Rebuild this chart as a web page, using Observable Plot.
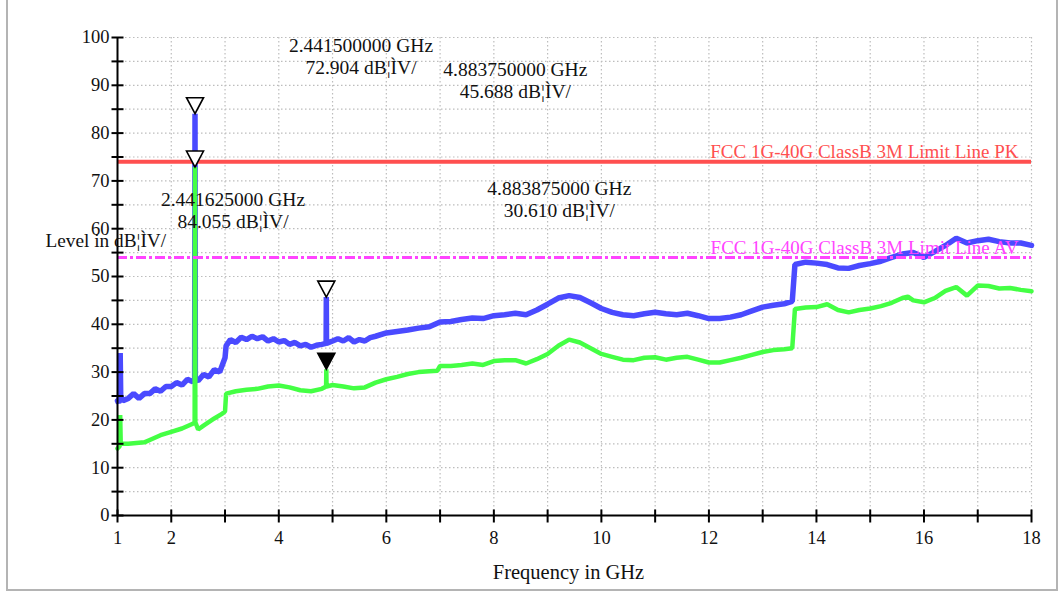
<!DOCTYPE html>
<html>
<head>
<meta charset="utf-8">
<script src="https://cdn.jsdelivr.net/npm/d3@7"></script>
<script src="https://cdn.jsdelivr.net/npm/@observablehq/plot@0.6"></script>
<style>
  html, body { margin: 0; padding: 0; background: #fff; }
  #wrap { position: relative; width: 1064px; height: 592px; overflow: hidden; }
  #wrap svg { position: absolute; left: 0; top: 0; }
  #border { position: absolute; left: 6px; top: -2px; width: 1052px; height: 593px; border: 2px solid #b4b4b4; box-sizing: border-box; pointer-events: none; }
</style>
</head>
<body>
<div id="wrap"><div id="border"></div></div>
<script>
// Peak (PK) trace: frequency in GHz, level in dBµV
const pkFreq = [1.00,1.02,1.04,1.05,1.06,1.1,1.2,1.3,1.4,1.5,1.6,1.7,1.8,1.9,2.0,2.1,2.2,2.3,2.4,2.435,2.4416,2.448,2.5,2.6,2.7,2.8,2.9,2.95,3.0,3.02,3.1,3.2,3.3,3.4,3.5,3.6,3.7,3.8,3.9,4.0,4.1,4.2,4.3,4.4,4.5,4.6,4.7,4.8,4.88,4.8838,4.888,5.0,5.1,5.2,5.3,5.4,5.5,5.6,5.7,5.8,6.0,6.2,6.4,6.6,6.8,7.0,7.2,7.4,7.6,7.8,8.0,8.2,8.4,8.6,8.8,9.0,9.2,9.4,9.6,9.8,10.0,10.2,10.4,10.6,10.8,11.0,11.2,11.4,11.6,11.8,12.0,12.2,12.4,12.6,12.8,13.0,13.2,13.4,13.55,13.6,13.8,14.0,14.2,14.4,14.6,14.8,15.0,15.2,15.4,15.6,15.8,16.0,16.2,16.4,16.6,16.8,17.0,17.2,17.4,17.6,17.8,18.0];
const pkLevel = [24,23.5,25,34,25,24,24.5,25.5,24.5,25.5,25.5,26.5,26,27,27,27.8,27.3,28.5,28,28.5,84.055,28.5,28.2,29.5,29,30.5,30,31.5,33,35.5,36.8,36.2,37.3,36.8,37.5,37,37.4,36.5,37,36.3,36.6,35.8,36.2,35.5,35.8,35.2,35.6,35.8,36,45.688,36,36.5,37,36.5,37.2,36.3,36.8,36.5,37.2,37.5,38.2,38.5,38.8,39.2,39.5,40.5,40.6,41,41.3,41.2,41.8,42,42.3,42,43,44.2,45.5,46,45.6,44.5,43.3,42.5,42,41.8,42.2,42.5,42.2,42,42.3,41.8,41.2,41.2,41.5,42,42.8,43.6,44,44.3,44.8,52.5,53,52.8,52.5,51.8,51.7,52.3,52.7,53.2,54,54.7,55,54,55.2,56.5,58,57,57.5,57.8,57.3,57,57,56.5];

// Average (AV) trace
const avFreq = [1.00,1.04,1.05,1.06,1.2,1.4,1.5,1.6,1.8,2.0,2.2,2.4,2.435,2.4415,2.448,2.5,2.6,2.8,2.95,3.0,3.02,3.2,3.4,3.6,3.8,4.0,4.2,4.4,4.6,4.8,4.88,4.8839,4.888,5.0,5.2,5.4,5.6,5.8,6.0,6.2,6.4,6.6,6.8,6.95,7.0,7.2,7.4,7.6,7.8,8.0,8.2,8.4,8.6,8.8,9.0,9.2,9.4,9.6,9.8,10.0,10.2,10.4,10.6,10.8,11.0,11.2,11.4,11.6,11.8,12.0,12.2,12.4,12.6,12.8,13.0,13.2,13.4,13.55,13.6,13.8,14.0,14.2,14.4,14.6,14.8,15.0,15.2,15.4,15.6,15.7,15.8,16.0,16.2,16.4,16.6,16.8,17.0,17.2,17.4,17.6,17.8,18.0];
const avLevel = [14,14.5,21,15,15,15.2,15.3,15.8,16.8,17.5,18.2,19.2,19.5,72.904,19.5,18,18.8,20.3,21.3,21.8,25.5,26,26.3,26.5,27,27.2,26.8,26.2,26,26.5,27,30.61,27,27.3,27,26.6,26.8,27.8,28.5,29,29.6,30,30.2,30.3,31.3,31.3,31.5,31.8,31.5,32.3,32.5,32.5,31.8,32.7,33.8,35.5,36.8,36.2,35,33.8,33.2,32.6,32.5,33,33.1,32.6,33,33.2,32.6,32,32,32.5,33,33.6,34.2,34.6,34.8,35,43.2,43.5,43.6,44.2,43,42.5,43,43.3,43.8,44.5,45.5,45.8,45,44.6,45.5,47,47.8,46,48.1,48,47.5,47.6,47.2,46.9];

// Limit lines
const limitNames = ["FCC 1G-40G ClassB 3M Limit Line PK", "FCC 1G-40G ClassB 3M Limit Line AV"];
const limitLevels = [74, 54];

// Markers
const markerFreq = [2.4415, 2.441625, 4.88375, 4.883875];
const markerLevel = [72.904, 84.055, 45.688, 30.610];
const markerFilled = [false, false, false, true];

// Axis ticks
const xTicks = d3.range(1, 19);
const xTickLabels = [1, 2, 4, 6, 8, 10, 12, 14, 16, 18];
const yTicks = d3.range(0, 101, 5);
const yTickLabels = d3.range(0, 101, 10);

const FONT = "Liberation Serif, Times New Roman, serif";

const triDown = { draw(ctx) { ctx.moveTo(0, 0); ctx.lineTo(-8.5, -16); ctx.lineTo(8.5, -16); ctx.closePath(); } };
const hTick = { draw(ctx) { ctx.moveTo(-6, 0); ctx.lineTo(6, 0); } };
const vTick = { draw(ctx) { ctx.moveTo(0, -6); ctx.lineTo(0, 7); } };

const markers = markerFreq.map((f, i) => ({ f, v: markerLevel[i], filled: markerFilled[i],
  label: `${f.toFixed(9)} GHz\n${markerLevel[i].toFixed(3)} dB¦ÌV/` }));
// label offsets (px) relative to each marker
const labelOffsets = [[166, -111], [38, 96], [189, -217], [233, -170]];

const marks = [
  Plot.ruleX(xTicks.slice(1), { stroke: "#bdbdbd", strokeDasharray: "1.5,2.5", strokeWidth: 1.2 }),
  Plot.ruleY(yTicks.slice(1), { stroke: "#bdbdbd", strokeDasharray: "1.5,2.5", strokeWidth: 1.2 }),
  Plot.line(pkLevel, { x: pkFreq, y: pkLevel, stroke: "#4a4aff", strokeWidth: 5.5, strokeLinejoin: "miter" }),
  Plot.line(avLevel, { x: avFreq, y: avLevel, stroke: "#44ff44", strokeWidth: 4.5, strokeLinejoin: "miter" }),
  Plot.ruleY([limitLevels[0]], { stroke: "#ff4f4f", strokeWidth: 4 }),
  Plot.ruleY([limitLevels[1]], { stroke: "#ff44ff", strokeWidth: 3, strokeDasharray: "10,3,3,3" }),
  Plot.text([limitNames[0]], { y: limitLevels[0], frameAnchor: "right", textAnchor: "end", dx: -13, dy: -10, fill: "#ff4f4f", fontSize: 19, fontFamily: FONT }),
  Plot.text([limitNames[1]], { y: limitLevels[1], frameAnchor: "right", textAnchor: "end", dx: -13, dy: -9, fill: "#ff44ff", fontSize: 19, fontFamily: FONT }),
  Plot.dot(markers, { x: "f", y: "v", symbol: triDown, stroke: "black", strokeWidth: 1.6, fill: d => d.filled ? "black" : "white" }),
  ...markers.map((m, i) => Plot.text([m], { x: "f", y: "v", text: "label", dx: labelOffsets[i][0], dy: labelOffsets[i][1], lineHeight: 1.13, fill: "#111", fontSize: 19.5, fontFamily: FONT })),
  Plot.ruleX([1], { stroke: "black", strokeWidth: 2 }),
  Plot.ruleY([0], { stroke: "black", strokeWidth: 2 }),
  Plot.dot(yTicks, { y: d => d, frameAnchor: "left", symbol: hTick, stroke: "black", strokeWidth: 2, fill: "none" }),
  Plot.dot(xTicks, { x: d => d, frameAnchor: "bottom", symbol: vTick, stroke: "black", strokeWidth: 2, fill: "none" }),
  Plot.text(yTickLabels, { y: d => d, text: d => String(d), frameAnchor: "left", textAnchor: "end", dx: -8, fill: "#111", fontSize: 18.5, fontFamily: FONT }),
  Plot.text(xTickLabels, { x: d => d, text: d => String(d), frameAnchor: "bottom", dy: 28, fill: "#111", fontSize: 18.5, fontFamily: FONT }),
  Plot.text(["Level in dB¦ÌV/"], { frameAnchor: "top-left", textAnchor: "start", dx: -72, dy: 196, fill: "#111", fontSize: 19.3, fontFamily: FONT }),
  Plot.text(["Frequency in GHz"], { frameAnchor: "bottom", dx: -6, dy: 63, fill: "#111", fontSize: 20.5, fontFamily: FONT })
];

const chart = Plot.plot({
  width: 1064,
  height: 592,
  marginLeft: 117,
  marginRight: 33,
  marginTop: 37,
  marginBottom: 77,
  x: { domain: [1, 18], axis: null },
  y: { domain: [0, 100], axis: null },
  style: { background: "white", fontFamily: FONT, overflow: "visible" },
  marks
});
document.getElementById("wrap").prepend(chart);
</script>
</body>
</html>
